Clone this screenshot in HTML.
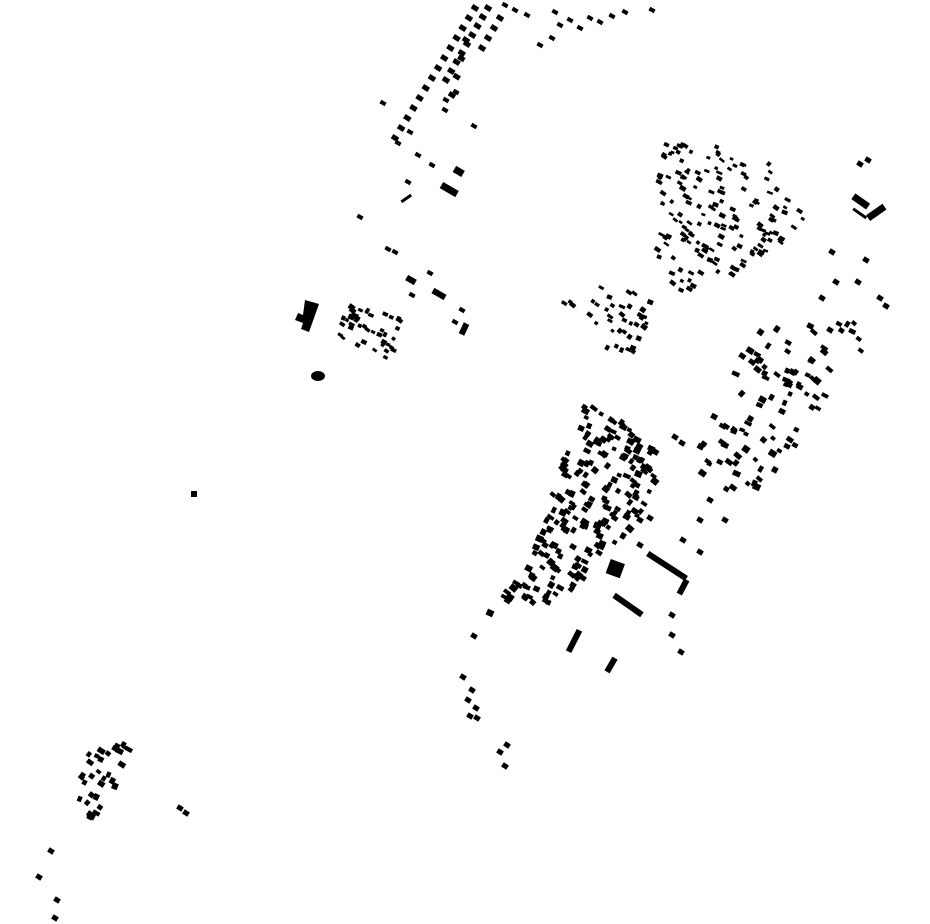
<!DOCTYPE html>
<html><head><meta charset="utf-8"><style>html,body{margin:0;padding:0;background:#fff}svg{display:block}</style></head>
<body>
<svg id="s" width="930" height="924" viewBox="0 0 930 924" xmlns="http://www.w3.org/2000/svg">
<g fill="#000">
<path d="M305,300 l14,4 l-10,28 l-8,-3 l2,-6 l-8,-3 l3,-7 l5,2 z"/>
<ellipse cx="318" cy="376" rx="7" ry="5"/>
<rect x="191" y="491" width="6" height="6"/>
<rect x="608" y="561" width="15" height="15" transform="rotate(20 615 568)"/>
<rect x="644" y="563" width="46" height="6" transform="rotate(33 667 566)"/>
<rect x="675" y="584" width="16" height="6" transform="rotate(-62 683 587)"/>
<rect x="611" y="602" width="34" height="6" transform="rotate(35 628 605)"/>
<rect x="562" y="638" width="24" height="6" transform="rotate(-63 574 641)"/>
<rect x="603" y="662" width="16" height="6" transform="rotate(-60 611 665)"/>
<rect x="852" y="198" width="18" height="7" transform="rotate(35 861 201)"/>
<rect x="866" y="209" width="20" height="7" transform="rotate(-35 876 212)"/>
<rect x="852" y="212" width="16" height="3" transform="rotate(35 860 213)"/>
<rect x="440" y="186" width="18" height="7" transform="rotate(30 449 190)"/>
<rect x="454" y="168" width="10" height="7" transform="rotate(30 459 171)"/>
<rect x="432" y="291" width="14" height="6" transform="rotate(30 439 294)"/>
<rect x="406" y="277" width="10" height="6" transform="rotate(30 411 280)"/>
<rect x="458" y="326" width="12" height="6" transform="rotate(-65 464 329)"/>
<rect x="400" y="197" width="12" height="3" transform="rotate(-35 406 198)"/>
</g>
<g id="b" fill="#000"></g>
</svg>
<script>
var g=document.getElementById('b');var seed=7;function r(){seed=(seed*16807)%2147483647;return seed/2147483647;}
function add(x,y,w,h,a){var e=document.createElementNS('http://www.w3.org/2000/svg','rect');e.setAttribute('x',x-w/2);e.setAttribute('y',y-h/2);e.setAttribute('width',w);e.setAttribute('height',h);e.setAttribute('transform','rotate('+a+' '+x+' '+y+')');g.appendChild(e);}
function inPoly(x,y,p){var c=false;for(var i=0,j=p.length-1;i<p.length;j=i++){var xi=p[i][0],yi=p[i][1],xj=p[j][0],yj=p[j][1];if(((yi>y)!=(yj>y))&&(x<(xj-xi)*(y-yi)/(yj-yi)+xi))c=!c;}return c;}
function fill(p,n,w,h,a){var minx=1e9,maxx=-1e9,miny=1e9,maxy=-1e9;p.forEach(function(q){minx=Math.min(minx,q[0]);maxx=Math.max(maxx,q[0]);miny=Math.min(miny,q[1]);maxy=Math.max(maxy,q[1]);});var c=0,t=0;while(c<n&&t<20000){t++;var x=minx+r()*(maxx-minx),y=miny+r()*(maxy-miny);if(inPoly(x,y,p)){add(x,y,w*(0.7+r()*0.6),h*(0.7+r()*0.6),a+(r()-0.5)*20);c++;}}}
function line(x1,y1,x2,y2,n,w,h,a){for(var i=0;i<n;i++){var t=i/(n-1);add(x1+(x2-x1)*t,y1+(y2-y1)*t,w,h,a);}}
line(475,8,395,138,14,7,5,32);line(488,8,446,80,9,7,5,32);line(500,18,482,48,4,7,5,32);line(466,40,452,95,4,7,5,32);
[[505,5],[515,10],[527,15],[555,12],[560,25],[570,20],[580,28],[590,18],[600,22],[612,16],[625,12],[652,10],[540,45],[552,38],[474,126],[418,155],[432,165],[446,100],[456,92],[383,103],[360,217],[408,182],[398,143],[410,132],[388,249],[395,252],[430,273],[412,295],[455,322],[462,310],[445,110]].forEach(function(q){add(q[0],q[1],6,4,30);});
fill([[665,140],[760,150],[815,215],[780,245],[720,285],[680,295],[650,245],[655,170]],170,5,3.5,30);
fill([[550,290],[640,285],[662,300],[628,362],[612,362],[600,330],[555,310]],40,5,4,30);
fill([[338,300],[405,318],[392,362],[340,340]],42,5,4,30);
fill([[580,405],[610,410],[665,460],[640,520],[600,560],[575,590],[492,632],[478,625],[520,570],[545,520],[560,470]],210,6,5,32);
fill([[755,320],[860,322],[870,345],[812,420],[775,480],[745,500],[690,470],[720,400]],95,6,5,32);
[[832,252],[866,260],[858,282],[836,282],[822,298],[880,298],[886,306],[868,160],[860,164],[830,330],[700,520],[710,500],[725,520],[683,540],[700,552],[672,615],[672,635],[681,652],[640,520],[650,518],[573,585],[583,578],[545,545],[640,545],[675,437],[682,443]].forEach(function(q){add(q[0],q[1],6,5,32);});
fill([[100,728],[135,740],[115,790],[95,820],[75,810],[80,770]],32,6,5,32);
[[463,677],[472,690],[468,700],[476,708],[470,716],[477,718],[500,752],[507,745],[505,766],[180,808],[186,813],[51,851],[39,877],[57,900],[55,918],[474,636]].forEach(function(q){add(q[0],q[1],6,5,32);});
</script>
</body></html>
